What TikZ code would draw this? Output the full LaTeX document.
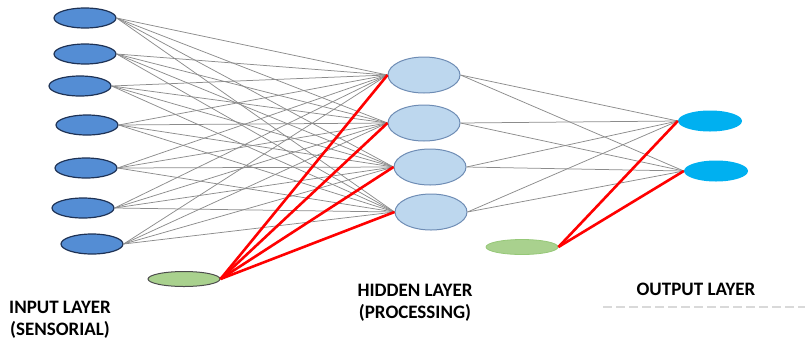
\documentclass[tikz,border=0pt]{standalone}
\usepackage{fontspec}
\setmainfont{Carlito}
\usetikzlibrary{shapes.geometric}

\tikzset{
  innode/.style={ellipse, draw={rgb,255:red,30;green,50;blue,85}, line width=1.2pt, fill={rgb,255:red,84;green,141;blue,212}, minimum width=62pt, minimum height=20pt},
  hidnode/.style={ellipse, draw={rgb,255:red,110;green,140;blue,180}, line width=1pt, fill={rgb,255:red,189;green,215;blue,238}, minimum width=72pt, minimum height=36pt},
  outnode/.style={ellipse, fill={rgb,255:red,0;green,176;blue,240}, minimum width=64pt, minimum height=21pt},
  biasnode/.style={ellipse, fill={rgb,255:red,169;green,209;blue,142}, minimum width=72pt, minimum height=15pt},
  wire/.style={draw=black!45, line width=0.75pt},
  biaswire/.style={draw=red, line width=2.6pt},
  layertext/.style={font=\fontsize{19}{22}\selectfont\bfseries, align=center}
}

\begin{document}
\begin{tikzpicture}[x=1pt,y=-1pt]
\tikzstyle{every node}+=[inner sep=0pt]
\useasboundingbox (0,0) rectangle (810,346);
% input layer
\node [innode] (i1) at (85,18) {};
\node [innode] (i2) at (85,54) {};
\node [innode] (i3) at (80,86) {};
\node [innode] (i4) at (87,125) {};
\node [innode] (i5) at (86,168) {};
\node [innode] (i6) at (83,208) {};
\node [innode] (i7) at (92,244) {};
\node [biasnode, draw=black!70, line width=1pt] (b1) at (184,279) {};
% hidden layer
\node [hidnode] (h1) at (424,75) {};
\node [hidnode] (h2) at (424,123) {};
\node [hidnode] (h3) at (430,167) {};
\node [hidnode] (h4) at (431,212) {};
\node [biasnode, draw={rgb,255:red,150;green,200;blue,120}, line width=0.8pt] (b2) at (522,247) {};
% output layer
\node [outnode] (o1) at (710,121) {};
\node [outnode] (o2) at (716,171) {};
% input -> hidden
\draw [wire] (i1.east) -- (h1.west);
\draw [wire] (i1.east) -- (h2.west);
\draw [wire] (i1.east) -- (h3.west);
\draw [wire] (i1.east) -- (h4.west);
\draw [wire] (i2.east) -- (h1.west);
\draw [wire] (i2.east) -- (h2.west);
\draw [wire] (i2.east) -- (h3.west);
\draw [wire] (i2.east) -- (h4.west);
\draw [wire] (i3.east) -- (h1.west);
\draw [wire] (i3.east) -- (h2.west);
\draw [wire] (i3.east) -- (h3.west);
\draw [wire] (i3.east) -- (h4.west);
\draw [wire] (i4.east) -- (h1.west);
\draw [wire] (i4.east) -- (h2.west);
\draw [wire] (i4.east) -- (h3.west);
\draw [wire] (i4.east) -- (h4.west);
\draw [wire] (i5.east) -- (h1.west);
\draw [wire] (i5.east) -- (h2.west);
\draw [wire] (i5.east) -- (h3.west);
\draw [wire] (i5.east) -- (h4.west);
\draw [wire] (i6.east) -- (h1.west);
\draw [wire] (i6.east) -- (h2.west);
\draw [wire] (i6.east) -- (h3.west);
\draw [wire] (i6.east) -- (h4.west);
\draw [wire] (i7.east) -- (h1.west);
\draw [wire] (i7.east) -- (h2.west);
\draw [wire] (i7.east) -- (h3.west);
\draw [wire] (i7.east) -- (h4.west);
% hidden -> output
\draw [wire] (h1.east) -- (o1.west);
\draw [wire] (h1.east) -- (o2.west);
\draw [wire] (h2.east) -- (o1.west);
\draw [wire] (h2.east) -- (o2.west);
\draw [wire] (h3.east) -- (o1.west);
\draw [wire] (h3.east) -- (o2.west);
\draw [wire] (h4.east) -- (o1.west);
\draw [wire] (h4.east) -- (o2.west);
% bias connections
\draw [biaswire] (b1.east) -- (h1.west);
\draw [biaswire] (b1.east) -- (h2.west);
\draw [biaswire] (b1.east) -- (h3.west);
\draw [biaswire] (b1.east) -- (h4.west);
\draw [biaswire] (b2.east) -- (o1.west);
\draw [biaswire] (b2.east) -- (o2.west);
% layer labels
\node [layertext] (tin) at (60,320) {INPUT LAYER\\(SENSORIAL)};
\node [layertext] (thid) at (415,303) {HIDDEN LAYER\\(PROCESSING)};
\node [layertext] (tout) at (696,289) {OUTPUT LAYER};
\draw [black!15, line width=1.5pt, dash pattern=on 9pt off 4pt] (603,307) -- (805,307);
\end{tikzpicture}
\end{document}
